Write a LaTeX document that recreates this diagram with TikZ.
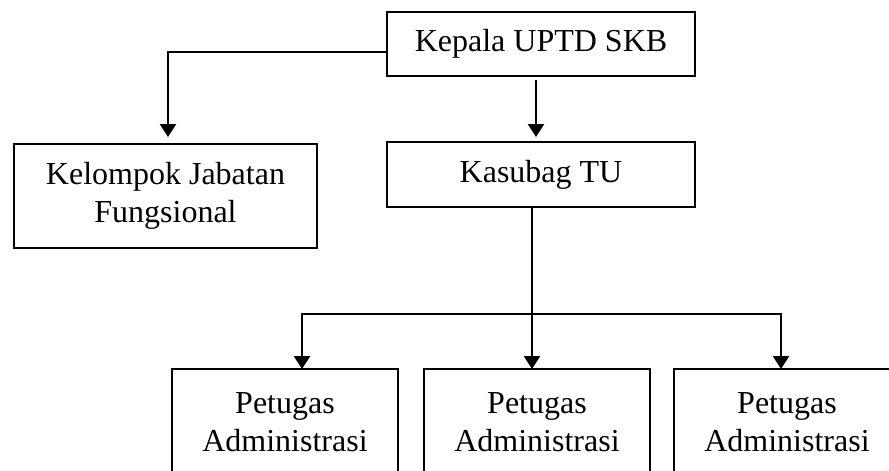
\documentclass[tikz,border=0pt]{standalone}
\usepackage{fontspec}
\setmainfont{Liberation Serif}
\usetikzlibrary{arrows.meta}
\begin{document}
\begin{tikzpicture}[x=0.5pt, y=-0.5pt,
  kotak/.style={draw, line width=1pt, outer sep=0pt, align=center,
    font=\fontsize{16}{19}\selectfont},
  panah/.style={line width=1.3pt, -{Triangle[width=8pt,length=6.5pt]}}]
\useasboundingbox (0,0) rectangle (889,471);
\clip (0,0) rectangle (889,471);
% kotak
\node[kotak, minimum width=154pt, minimum height=32pt] (kepala) at (541,44) {Kepala UPTD SKB};
\node[kotak, minimum width=154pt, minimum height=32.5pt] (kasubag) at (541,174.5) {Kasubag TU};
\node[kotak, minimum width=151.5pt, minimum height=52pt] (kelompok) at (165.5,196) {Kelompok Jabatan\\Fungsional};
\node[kotak, minimum width=113pt, minimum height=53pt] (petugasa) at (285,422) {Petugas\\Administrasi};
\node[kotak, minimum width=113pt, minimum height=53pt] (petugasb) at (537,422) {Petugas\\Administrasi};
\node[kotak, minimum width=113pt, minimum height=53pt] (petugasc) at (787,422) {Petugas\\Administrasi};
%
\coordinate (bus) at (0,314);
\coordinate (ja) at ([xshift=8.5pt]petugasa.north);
\coordinate (jb) at ([xshift=-4.5pt]kasubag.south);
\coordinate (jc) at ([xshift=-3pt]petugasc.north);
% garis
\draw[panah] ([yshift=-4pt]kepala.west) -| ([xshift=1.25pt,yshift=3.5pt]kelompok.north);
\draw[panah] ([xshift=-2.5pt,yshift=-2pt]kepala.south) -- ([xshift=-2.5pt,yshift=2.5pt]kasubag.north);
\draw[panah] (jb) -- (jb |- petugasb.north);
\draw[panah, {Triangle[width=8pt,length=6.5pt]}-{Triangle[width=8pt,length=6.5pt]}] (ja) |- (jb |- bus) -| (jc);
\end{tikzpicture}
\end{document}
